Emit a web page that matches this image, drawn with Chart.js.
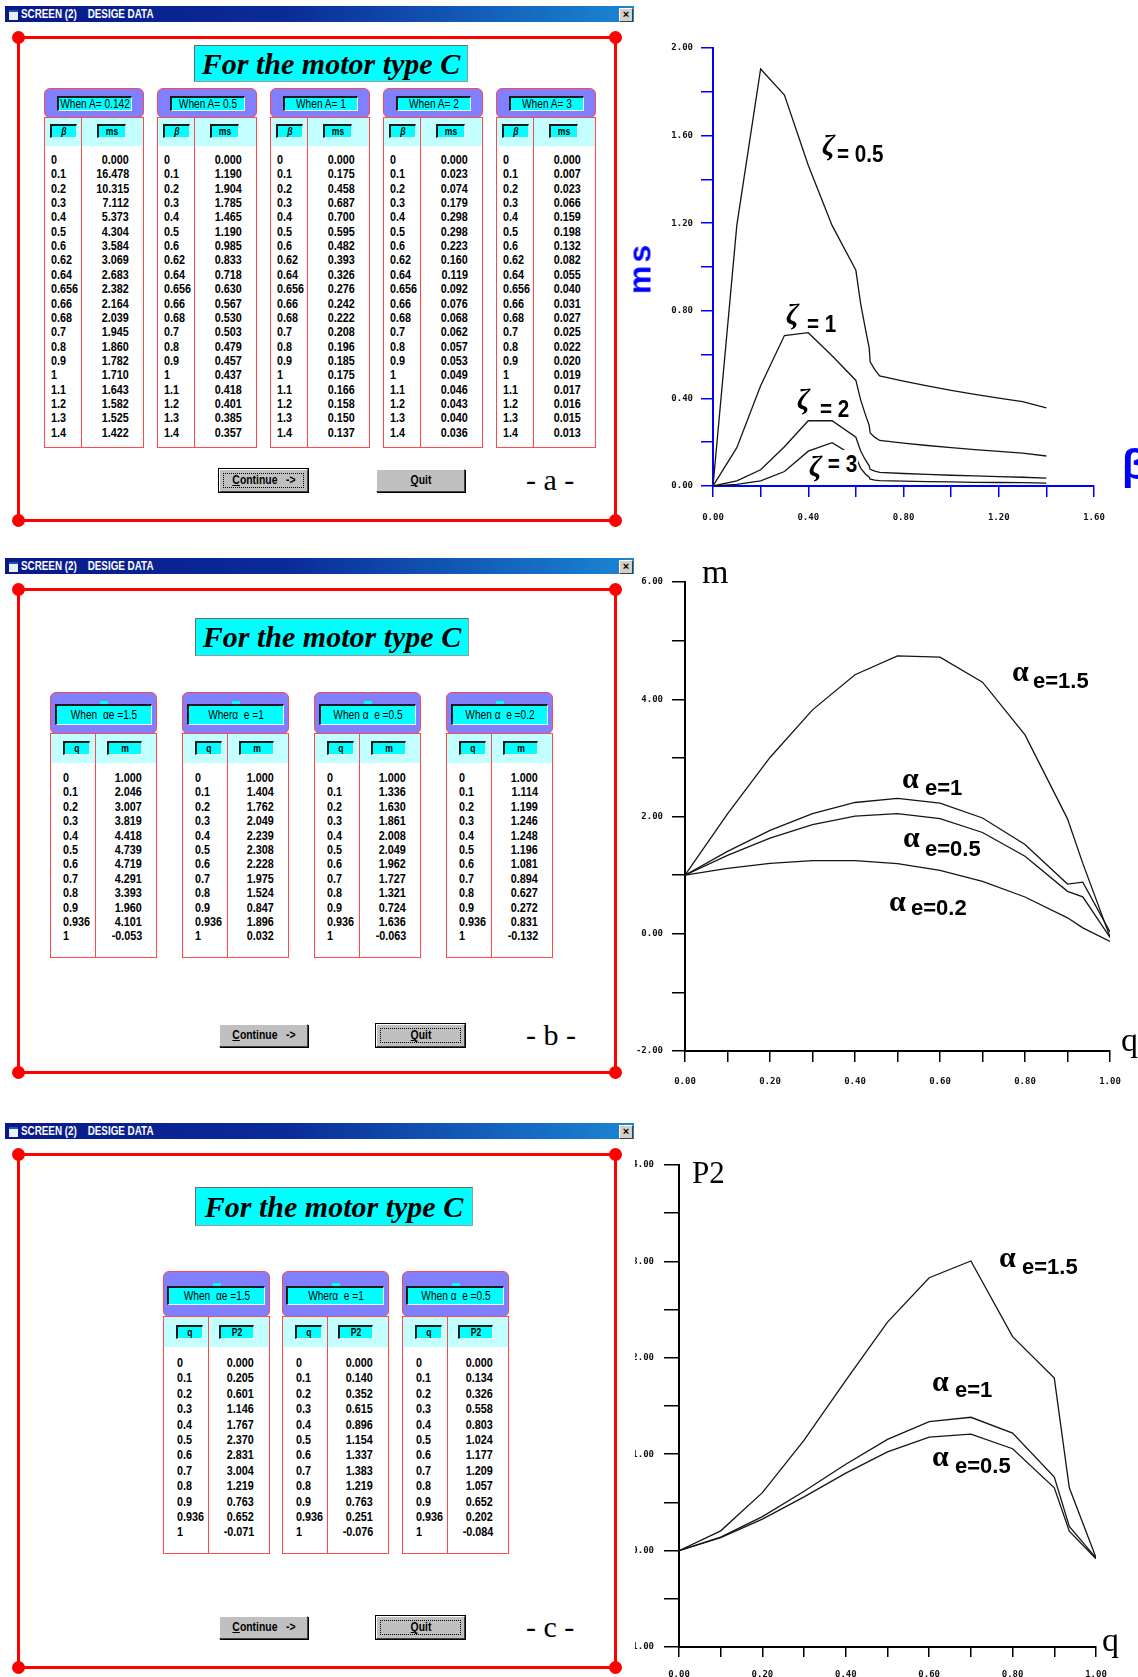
<!DOCTYPE html>
<html>
<head>
<meta charset="utf-8">
<title>Design data - motor type C</title>
<script src="https://cdn.jsdelivr.net/npm/chart.js@4.4.1/dist/chart.umd.min.js"></script>
<style>
  html, body { margin: 0; padding: 0; background: #fff; }
  body { width: 1138px; height: 1677px; position: relative; overflow: hidden; font-family: "Liberation Sans", Arial, sans-serif; }
  .abs { position: absolute; box-sizing: border-box; }
  canvas.abs { z-index: 0; }
  .cover { left: 0; top: 0; width: 635px; height: 1677px; background: #fff; z-index: 1; }
  .sx { display: inline-block; white-space: pre; }
  .tbar { z-index: 2; background: linear-gradient(90deg, #08188a 0%, #0a2c98 45%, #1a86d2 100%); color: #fff;
          font: bold 12px "Liberation Sans", sans-serif; line-height: 16px; white-space: pre; }
  .tbar .sx { position: absolute; left: 16px; top: 0; transform: scaleX(.82); transform-origin: left center; }
  .ico { position: absolute; left: 4px; top: 4px; width: 9px; height: 8px; background: #e8f0f8; border-top: 2px solid #1c5aa8; }
  .xbtn { position: absolute; right: 1px; top: 2px; width: 12px; height: 12px; background: #d4d0c8; color: #000;
          border: 1px solid; border-color: #fff #404040 #404040 #fff; font: bold 11px sans-serif; line-height: 10px; text-align: center; }
  .frame { z-index: 2; border: 3px solid #ff0000; }
  .dot { z-index: 3; background: #ff0000; border-radius: 50%; }
  .ttl { z-index: 2; background: #00ffff; border: 1px solid #9a9a9a; border-top-color: #6a6a6a; border-left-color: #6a6a6a;
         font: italic bold 30px "Liberation Serif", "Times New Roman", serif; text-align: center; color: #000; white-space: nowrap; }
  .ghead { z-index: 2; background: #8080ff; border: 1px solid #ff4a4a; border-radius: 6px; }
  .gcol { z-index: 2; background: #c4ffff; border: 1px solid #ff4a4a; }
  .gdata { z-index: 2; background: #fff; border: 1px solid #ff4a4a; border-top: none; }
  .vsep { z-index: 3; background: #ff4a4a; }
  .lbl { z-index: 3; background: #00ffff; border-top: 2px solid #1a1a1a; border-left: 2px solid #1a1a1a; border-right: 1px solid #f4f4f4;
         border-bottom: 1px solid #f4f4f4; color: #000; overflow: hidden; font: 13px "Liberation Sans", sans-serif; }
  .lbl .sx { position: absolute; left: 50%; top: 0; transform: translateX(-50%) scaleX(.78); }
  .lbl.sm { font: bold 11px "Liberation Sans", sans-serif; }
  .tab { z-index: 3; background: #00ffff; }
  .cell { z-index: 3; color: #000; white-space: pre; font: bold 13.5px "Liberation Sans", sans-serif; line-height: 16px; }
  .cell .sx { transform: scaleX(.8); transform-origin: left center; }
  .cell.r { text-align: right; }
  .cell.r .sx { transform-origin: right center; }
  .btn { z-index: 2; background: #c0c0c0; border: 1px solid; border-color: #fff #404040 #404040 #fff; box-shadow: 1px 1px 0 #000;
         font: bold 13px "Liberation Sans", sans-serif; line-height: 20px; color: #000; }
  .btn .sx { position: absolute; left: 50%; top: 0; transform: translateX(-50%) scaleX(.8); }
  .btn.focus { outline: 1px solid #000; }
  .btn.focus::after { content: ""; position: absolute; left: 3px; top: 3px; right: 3px; bottom: 3px; border: 1px dotted #000; }
  .letter { z-index: 2; font: 30px "Liberation Serif", "Times New Roman", serif; line-height: 30px; white-space: pre; color: #000; }
  .note { z-index: 3; color: #000; white-space: pre; line-height: 1; }
  .zeta { font: italic bold 29px "Liberation Serif", serif; }
  .eq { font: bold 24px "Liberation Sans", sans-serif; transform: scaleX(.86); transform-origin: left top; }
  .alpha { font: bold 30px "Liberation Serif", serif; }
  .sub { font: bold 22px "Liberation Sans", Arial, sans-serif; }
  .axname { font: 34px "Liberation Serif", serif; }
</style>
</head>
<body>
<div class="abs cover"></div>
<canvas id="chartA" class="abs" width="508" height="510" style="left:630px;top:30px"></canvas>
<canvas id="chartB" class="abs" width="513" height="530" style="left:625px;top:560px"></canvas>
<canvas id="chartC" class="abs" width="538" height="537" style="left:600px;top:1140px"></canvas>

<script>
// ---- screen a : beta / ms ----
const betaLabels = ['0','0.1','0.2','0.3','0.4','0.5','0.6','0.62','0.64','0.656','0.66','0.68','0.7','0.8','0.9','1','1.1','1.2','1.3','1.4'];
const msA0142 = [0.000,16.478,10.315,7.112,5.373,4.304,3.584,3.069,2.683,2.382,2.164,2.039,1.945,1.860,1.782,1.710,1.643,1.582,1.525,1.422];
const msA05 = [0.000,1.190,1.904,1.785,1.465,1.190,0.985,0.833,0.718,0.630,0.567,0.530,0.503,0.479,0.457,0.437,0.418,0.401,0.385,0.357];
const msA1 = [0.000,0.175,0.458,0.687,0.700,0.595,0.482,0.393,0.326,0.276,0.242,0.222,0.208,0.196,0.185,0.175,0.166,0.158,0.150,0.137];
const msA2 = [0.000,0.023,0.074,0.179,0.298,0.298,0.223,0.160,0.119,0.092,0.076,0.068,0.062,0.057,0.053,0.049,0.046,0.043,0.040,0.036];
const msA3 = [0.000,0.007,0.023,0.066,0.159,0.198,0.132,0.082,0.055,0.040,0.031,0.027,0.025,0.022,0.020,0.019,0.017,0.016,0.015,0.013];
const headsA = ['When A= 0.142','When A= 0.5','When A= 1','When A= 2','When A= 3'];
const zetaNames = ['0.5','1','2','3'];

// ---- screen b : q / m ----
const qLabels = ['0','0.1','0.2','0.3','0.4','0.5','0.6','0.7','0.8','0.9','0.936','1'];
const mAe15 = [1.000,2.046,3.007,3.819,4.418,4.739,4.719,4.291,3.393,1.960,4.101,-0.053];
const mAe1 = [1.000,1.404,1.762,2.049,2.239,2.308,2.228,1.975,1.524,0.847,1.896,0.032];
const mAe05 = [1.000,1.336,1.630,1.861,2.008,2.049,1.962,1.727,1.321,0.724,1.636,-0.063];
const mAe02 = [1.000,1.114,1.199,1.246,1.248,1.196,1.081,0.894,0.627,0.272,0.831,-0.132];
const headsB = ['When  \u03b1e =1.5','Wher\u03b1  e =1','When \u03b1  e =0.5','When \u03b1  e =0.2'];
// curves as they are drawn on graph b (the q = 0.936 point is read off the graph, not the table)
const plotM15 = [1.000,2.046,3.007,3.819,4.418,4.739,4.719,4.291,3.393,1.960,1.20,-0.053];
const plotM1 = [1.000,1.404,1.762,2.049,2.239,2.308,2.228,1.975,1.524,0.847,0.88,0.032];
const plotM05 = [1.000,1.336,1.630,1.861,2.008,2.049,1.962,1.727,1.321,0.724,0.63,-0.063];
const plotM02 = [1.000,1.114,1.199,1.246,1.248,1.196,1.081,0.894,0.627,0.272,0.10,-0.132];
const alphaB = ['1.5','1','0.5','0.2'];

// ---- screen c : q / P2 ----
const p2Ae15 = [0.000,0.205,0.601,1.146,1.767,2.370,2.831,3.004,1.219,0.763,0.652,-0.071];
const p2Ae1 = [0.000,0.140,0.352,0.615,0.896,1.154,1.337,1.383,1.219,0.763,0.251,-0.076];
const p2Ae05 = [0.000,0.134,0.326,0.558,0.803,1.024,1.177,1.209,1.057,0.652,0.202,-0.084];
const headsC = ['When  \u03b1e =1.5','Wher\u03b1  e =1','When \u03b1  e =0.5'];
// alpha_e = 1.5 as drawn on graph c (0.8 and 0.9)
const plotP15 = [0.000,0.205,0.601,1.146,1.767,2.370,2.831,3.004,2.22,1.79,0.652,-0.071];
const alphaC = ['1.5','1','0.5'];

const px = n => n + 'px';
const sx = t => '<span class="sx">' + t + '</span>';
function box(x, y, w, h, cls, html, extra) {
  const d = document.createElement('div');
  d.className = 'abs ' + cls;
  Object.assign(d.style, { left: px(x), top: px(y) }, w != null ? { width: px(w) } : {}, h != null ? { height: px(h) } : {}, extra || {});
  if (html != null) d.innerHTML = html;
  document.body.appendChild(d);
  return d;
}

// window chrome: title bar, red frame with dots, title, buttons
function drawWindow(w) {
  box(5, w.bar, 629, 16, 'tbar', '<span class="ico"></span>' + sx('SCREEN (2)    DESIGE DATA') + '<span class="xbtn">\u00d7</span>');
  box(17, w.top - 1, 600, w.bottom - w.top + 3, 'frame');
  [[18.5, w.top + 0.5], [615.5, w.top + 0.5], [18.5, w.bottom + 0.5], [615.5, w.bottom + 0.5]]
    .forEach(([cx, cy]) => box(cx - 6.5, cy - 6.5, 13, 13, 'dot'));
  box(w.title[0], w.title[1], w.title[2], w.title[3], 'ttl', 'For the motor type C', { lineHeight: px(w.title[3] - 2) });
  box(219, w.btn, 89, 23, 'btn' + (w.focus === 0 ? ' focus' : ''), sx('<u>C</u>ontinue   ->'));
  box(376, w.btn, 89, 23, 'btn' + (w.focus === 1 ? ' focus' : ''), sx('<u>Q</u>uit'));
  box(526, w.btn - 4, 60, 30, 'letter', '- ' + w.letter + ' -');
}

// one "When ..." table group
function drawGroup(x, g, head, colA, colB, rows, vals) {
  const colTop = g.top + g.headH, dataTop = colTop + g.colH;
  box(x, g.top, g.w, g.headH + 1, 'ghead');
  if (g.tab) box(x + 50, g.top + g.lb[1] - 3, 8, 4, 'tab');
  box(x + g.lb[0], g.top + g.lb[1], g.lb[2], g.lb[3], 'lbl', sx(head), { lineHeight: px(g.lb[3] - 3) });
  box(x, colTop, g.w, g.colH + 1, 'gcol');
  box(x + g.cbA[0], colTop + g.cbY, g.cbA[1], g.cbH, 'lbl sm', sx(colA), { lineHeight: px(g.cbH - 3) });
  box(x + g.cbB[0], colTop + g.cbY, g.cbB[1], g.cbH, 'lbl sm', sx(colB), { lineHeight: px(g.cbH - 3) });
  box(x, dataTop, g.w, g.bottom - dataTop, 'gdata');
  box(x + g.c1, colTop, 1, g.bottom - colTop, 'vsep');
  rows.forEach((r, i) => {
    const cy = g.row0 + i * g.pitch;
    box(x + g.tl, cy - 8, 40, 16, 'cell', sx(r));
    box(x + g.w - g.vr - 60, cy - 8, 60, 16, 'cell r', sx(vals[i].toFixed(3)));
  });
}

// ---- screen a ----
drawWindow({ bar: 6, top: 37, bottom: 520, title: [194, 45, 274, 37], btn: 469, focus: 0, letter: 'a' });
const gA = { top: 88, headH: 29, colH: 29, bottom: 448, w: 100, c1: 37, lb: [13, 8, 75, 15], cbA: [6, 27], cbB: [53, 29], cbY: 7, cbH: 14,
             row0: 160, pitch: 14.35, tl: 7, vr: 15 };
[44, 157, 270, 383, 496].forEach((x, i) =>
  drawGroup(x, gA, headsA[i], '<i>\u03b2</i>', 'ms', betaLabels, [msA0142, msA05, msA1, msA2, msA3][i]));

// ---- screen b ----
drawWindow({ bar: 558, top: 589, bottom: 1072, title: [195, 618, 274, 38], btn: 1024, focus: 1, letter: 'b' });
const gB = { top: 692, headH: 41, colH: 30, bottom: 958, w: 107, c1: 45, lb: [5, 12, 97, 21], cbA: [13, 27], cbB: [57, 35], cbY: 8, cbH: 14,
             row0: 778, pitch: 14.4, tl: 13, vr: 15, tab: true };
[50, 182, 314, 446].forEach((x, i) =>
  drawGroup(x, gB, headsB[i], 'q', 'm', qLabels, [mAe15, mAe1, mAe05, mAe02][i]));

// ---- screen c ----
drawWindow({ bar: 1123, top: 1154, bottom: 1667, title: [195, 1187, 278, 39], btn: 1616, focus: 1, letter: 'c' });
const gC = { top: 1271, headH: 45, colH: 31, bottom: 1554, w: 107, c1: 45, lb: [4, 15, 98, 19], cbA: [13, 27], cbB: [56, 35], cbY: 9, cbH: 14,
             row0: 1363, pitch: 15.4, tl: 14, vr: 16, tab: true };
[163, 282, 402].forEach((x, i) =>
  drawGroup(x, gC, headsC[i], 'q', 'P2', qLabels, [p2Ae15, p2Ae1, p2Ae05][i]));

// ---- graphs ----
const onStep = (v, s) => Math.abs(v / s - Math.round(v / s)) < 1e-6;
function axis(o) {
  return {
    type: 'linear', min: o.min, max: o.max,
    border: { display: true, color: o.color, width: 2 },
    grid: { drawOnChartArea: false, drawTicks: true, tickLength: o.tick, color: o.color, lineWidth: 1.5 },
    ticks: { stepSize: o.step, autoSkip: false, maxRotation: 0, minRotation: 0, padding: o.pad, color: '#111',
             font: { family: 'DejaVu Sans Mono', size: o.fs || 9, weight: 'bold' },
             callback: v => onStep(v, o.every) ? v.toFixed(2) : '' },
    afterFit: s => { if (s.isHorizontal()) s.height = o.size; else s.width = o.size; }
  };
}
function curve(xs, ys) {
  return { data: xs.map((x, i) => ({ x: Number(x), y: ys[i] })), borderColor: '#151515', borderWidth: 1.3,
           pointRadius: 0, tension: 0, fill: false };
}
function graph(id, sets, xAx, yAx, pad) {
  return new Chart(document.getElementById(id), {
    type: 'line',
    data: { datasets: sets },
    options: {
      responsive: false, animation: false, events: [],
      layout: { padding: pad },
      plugins: { legend: { display: false }, tooltip: { enabled: false } },
      scales: { x: xAx, y: yAx }
    }
  });
}

graph('chartA', [msA05, msA1, msA2, msA3].map(s => curve(betaLabels, s)),
  axis({ min: 0, max: 1.6, step: 0.2, every: 0.4, color: '#0000ff', tick: 11, pad: 15, size: 54 }),
  axis({ min: 0, max: 2, step: 0.2, every: 0.4, color: '#0000ff', tick: 12, pad: 8, size: 83 }),
  { top: 18, right: 44, bottom: 0, left: 0 });

graph('chartB', [plotM15, plotM1, plotM05, plotM02].map(s => curve(qLabels, s)),
  axis({ min: 0, max: 1, step: 0.1, every: 0.2, color: '#000', tick: 11, pad: 14, size: 39 }),
  axis({ min: -2, max: 6, step: 1, every: 2, color: '#000', tick: 13, pad: 9, size: 60 }),
  { top: 22, right: 28, bottom: 0, left: 0 });

graph('chartC', [plotP15, p2Ae1, p2Ae05].map(s => curve(qLabels, s)),
  axis({ min: 0, max: 1, step: 0.1, every: 0.2, color: '#000', tick: 10, pad: 12, size: 30 }),
  axis({ min: -1, max: 4, step: 0.5, every: 1, color: '#000', tick: 15, pad: 10, size: 79 }),
  { top: 25, right: 42, bottom: 0, left: 0 });

// ---- graph captions ----
// graph a
box(640, 268, null, null, 'note', 'ms', { font: 'bold 32px "Liberation Sans", sans-serif', color: '#0000ff', letterSpacing: '3px',
  transform: 'translate(-50%,-50%) rotate(-90deg)' });
box(1122, 441, null, null, 'note', '\u03b2', { font: 'bold 42px "Liberation Sans", sans-serif', color: '#0000ff' });
const zetaPos = [[822, 129, 837, 140], [786, 298, 807, 310], [797, 383, 820, 395], [809, 450, 827, 450]];
zetaNames.forEach((n, i) => {
  const p = zetaPos[i];
  box(p[0], p[1], null, null, 'note zeta', '\u03b6');
  box(p[2], p[3], null, null, 'note eq', '= ' + n, i === 3 ? { background: '#fff', padding: '0 1px' } : {});
});

// graph b
box(702, 553, null, null, 'note axname', 'm');
box(1121, 1021, null, null, 'note axname', 'q');
const alphaPosB = [[1012, 654, 1033, 668], [902, 761, 925, 775], [903, 820, 925, 836], [889, 884, 911, 895]];
alphaB.forEach((n, i) => {
  const p = alphaPosB[i];
  box(p[0], p[1], null, null, 'note alpha', '\u03b1');
  box(p[2], p[3], null, null, 'note sub', 'e=' + n);
});

// graph c
box(692, 1155, null, null, 'note', 'P2', { font: '31px "Liberation Serif", serif' });
box(1102, 1621, null, null, 'note axname', 'q');
const alphaPosC = [[999, 1240, 1022, 1254], [932, 1364, 955, 1377], [932, 1439, 955, 1453]];
alphaC.forEach((n, i) => {
  const p = alphaPosC[i];
  box(p[0], p[1], null, null, 'note alpha', '\u03b1');
  box(p[2], p[3], null, null, 'note sub', 'e=' + n);
});
</script>
</body>
</html>
